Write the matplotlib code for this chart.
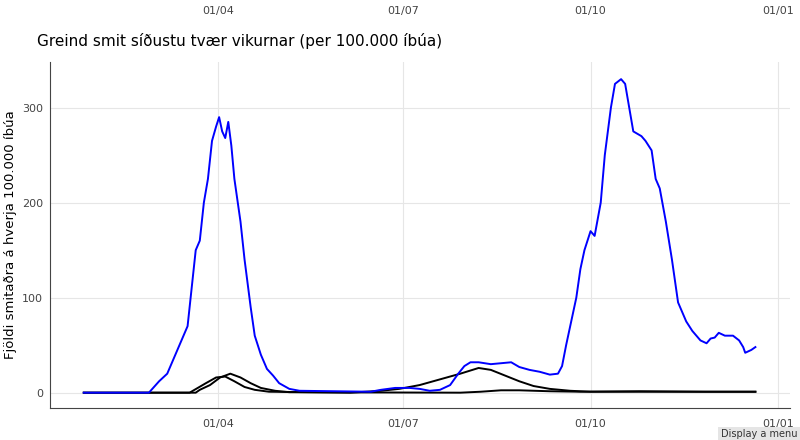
import matplotlib
matplotlib.use("Agg")
import matplotlib.pyplot as plt
import matplotlib.dates as mdates
import numpy as np
import pandas as pd

base = pd.Timestamp("2020-01-01")
def dates(days):
    return [base + pd.Timedelta(days=float(d)) for d in days]

blue_days = [25, 57, 62, 66, 70, 73, 76, 78, 80, 82, 84, 86, 88, 90, 91.5, 93, 94.5, 96, 97.5, 99, 102, 104, 107, 109, 112, 115, 118, 121, 126, 131, 166, 171, 178, 185, 190, 195, 200, 205, 209, 212, 215, 219, 225, 230, 235, 239, 244, 249, 254, 258, 260, 262, 264, 267, 269, 271, 274, 276, 279, 281, 284, 286, 289, 291, 293, 295, 299, 301, 304, 306, 308, 311, 314, 317, 321, 324, 328, 331, 333, 335, 337, 340, 344, 347, 349, 350, 353, 355]
blue_vals = [0, 0, 12, 20, 40, 55, 70, 110, 150, 160, 200, 225, 265, 280, 290, 275, 268, 285, 260, 225, 180, 140, 90, 60, 40, 25, 18, 10, 4, 2, 1, 3, 5, 5, 4, 2, 3, 8, 20, 28, 32, 32, 30, 31, 32, 27, 24, 22, 19, 20, 28, 50, 70, 100, 130, 150, 170, 165, 200, 250, 300, 325, 330, 325, 300, 275, 270, 265, 255, 225, 215, 180, 140, 95, 75, 65, 55, 52, 57, 58, 63, 60, 60, 55, 48, 42, 45, 48]

blackB_days = [25, 77, 85, 90, 94.5, 99, 104, 109, 116, 156, 171, 180, 190, 200, 210, 219, 225, 232, 239, 246, 254, 264, 274, 355]
blackB_vals = [0, 0, 10, 16, 17, 12, 6, 3, 1, 0, 2, 4, 8, 14, 20, 26, 24, 18, 12, 7, 4, 2, 1, 1]

blackA_days = [25, 80, 82, 87, 92, 97, 102, 107, 112, 119, 126, 210, 220, 230, 239, 254, 269, 298, 330, 355]
blackA_vals = [0, 0, 3, 8, 16, 20, 16, 10, 5, 2, 0.5, 0, 1, 2.5, 2.5, 1.5, 1, 1.5, 1, 1]

fig = plt.figure(figsize=(8, 4.4), dpi=100)
ax = fig.add_axes([0.0625, 0.073, 0.925, 0.786])
ax.plot(dates(blackA_days), blackA_vals, color="black", lw=1.4)
ax.plot(dates(blackB_days), blackB_vals, color="black", lw=1.4)
ax.plot(dates(blue_days), blue_vals, color="blue", lw=1.4)

ax.set_xlim(base + pd.Timedelta(days=8.4), base + pd.Timedelta(days=372))
ax.set_ylim(-16, 348)
ticks = [pd.Timestamp(s) for s in ["2020-04-01", "2020-07-01", "2020-10-01", "2021-01-01"]]
ax.set_xticks(ticks)
ax.xaxis.set_major_formatter(mdates.DateFormatter("%d/%m"))
ax.set_yticks([0, 100, 200, 300])
ax.grid(True, color="#e6e6e6", lw=0.8)
for s in ["top", "right"]:
    ax.spines[s].set_visible(False)
for s in ["left", "bottom"]:
    ax.spines[s].set_color("#444444")
ax.tick_params(axis="x", length=0, labelsize=8, colors="#444444", pad=8)
ax.tick_params(axis="y", length=0, labelsize=8, colors="#444444", pad=5)
ax.set_ylabel("Fjöldi smitaðra á hverja 100.000 íbúa", fontsize=9.5)
ax.yaxis.set_label_coords(-0.045, 0.5)
ax.set_axisbelow(True)

sec = ax.secondary_xaxis(1.125)
sec.set_xticks(ticks)
sec.xaxis.set_major_formatter(mdates.DateFormatter("%d/%m"))
sec.tick_params(length=0, labelsize=8, colors="#444444", pad=2)
sec.spines["top"].set_visible(False)

fig.text(0.046, 0.895, "Greind smit síðustu tvær vikurnar (per 100.000 íbúa)", fontsize=11)
fig.text(0.997, 0.006, "Display a menu", fontsize=7, color="#333333", ha="right",
         bbox=dict(facecolor="#e5e5e5", edgecolor="none", pad=2))
fig.savefig("out.png", dpi=100)
